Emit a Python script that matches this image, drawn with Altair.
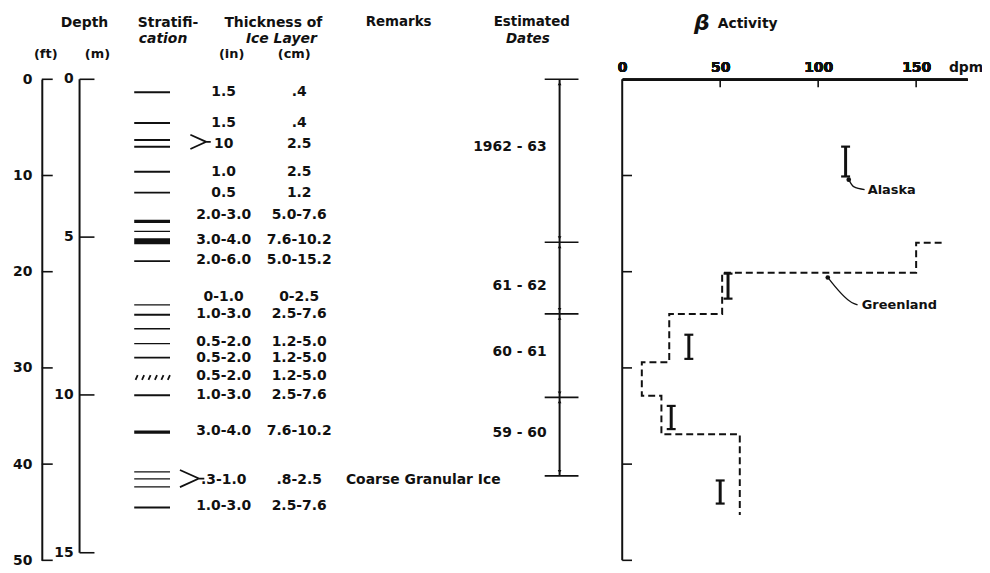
import altair as alt
import pandas as pd

FONT = "DejaVu Sans"
INK = "#111111"

# ---------------- data ----------------
ft_ticks = [0, 10, 20, 30, 40, 50]
m_ticks = [0, 5, 10, 15]
FT_PER_M = 3.28084

strat_depth_ft = [1.34, 4.55, 6.30, 7.02, 9.61, 11.78, 14.77, 15.81, 16.84, 18.90,
                  23.45, 24.48, 25.93, 27.48, 28.93, 32.85, 36.67, 40.81, 41.53,
                  42.36, 44.52]
strat_weight = ["medium", "medium", "medium", "medium", "medium", "medium", "thick",
                "thin", "heavy", "medium", "thin", "medium", "thin", "thin", "medium",
                "medium", "thick", "thin", "thin", "thin", "medium"]
hatched_depth_ft = [30.99]
bracket_depth_ft = [6.5, 41.5]

row_depth_ft = [1.34, 4.55, 6.71, 9.61, 11.78, 14.15, 16.74, 18.80, 22.62, 24.38,
                27.27, 28.93, 30.89, 32.85, 36.57, 41.63, 44.32]
thick_in = ["1.5", "1.5", "10", "1.0", "0.5", "2.0-3.0", "3.0-4.0", "2.0-6.0",
            "0-1.0", "1.0-3.0", "0.5-2.0", "0.5-2.0", "0.5-2.0", "1.0-3.0",
            "3.0-4.0", ".3-1.0", "1.0-3.0"]
thick_cm = [".4", ".4", "2.5", "2.5", "1.2", "5.0-7.6", "7.6-10.2", "5.0-15.2",
            "0-2.5", "2.5-7.6", "1.2-5.0", "1.2-5.0", "1.2-5.0", "2.5-7.6",
            "7.6-10.2", ".8-2.5", "2.5-7.6"]
remarks = [""] * 15 + ["Coarse Granular Ice", ""]

date_bounds_ft = [0, 16.94, 24.38, 33.06, 41.22]
date_labels = ["1962 - 63", "61 - 62", "60 - 61", "59 - 60"]
date_label_depth_ft = [7.02, 21.5, 28.3, 36.8]

dpm_ticks = [0, 50, 100, 150]
beta_depth_ticks = [10, 20, 30, 40, 50]

greenland_top_ft = [17.0, 17.0, 20.1, 24.4, 29.4, 32.9, 36.9]
greenland_bottom_ft = [17.0, 20.1, 24.4, 29.4, 32.9, 36.9, 45.3]
greenland_dpm = [163, 150, 51, 24, 10, 20, 60]

alaska_dpm = [114, 54, 34, 25, 50]
alaska_top_ft = [7.0, 20.2, 26.55, 33.95, 41.7]
alaska_bottom_ft = [10.1, 22.8, 29.06, 36.36, 44.1]

alaska_leader_dpm = [115.6, 118.1, 123.7]
alaska_leader_ft = [10.43, 11.16, 11.47]
greenland_leader_dpm = [104.9, 117.1, 120.1]
greenland_leader_ft = [20.6, 23.2, 23.45]

# ---------------- scales / axes ----------------
yscale = alt.Scale(domain=[0, 50], range=[70, 554], nice=False, zero=False)
yaxis = alt.Axis(orient="left", offset=-34, values=ft_ticks, ticks=False, tickSize=0,
                 labelPadding=10, labelFont=FONT, labelFontSize=14,
                 labelFontWeight="bold", labelColor=INK, domainColor=INK,
                 domainWidth=2, grid=False, labelAlign="right",
                 labelBaseline="middle")
xscale = alt.Scale(domain=[0, 176], range=[618, 965], nice=False, zero=False)
xaxis = alt.Axis(orient="top", offset=-70, values=dpm_ticks, ticks=False, tickSize=0,
                 labelPadding=5, labelFont=FONT, labelFontSize=14,
                 labelFontWeight="bold", labelColor=INK, domainColor=INK,
                 domainWidth=2, grid=False, labelFlush=False)


def Y(f):
    return alt.Y(f"{f}:Q", scale=yscale, axis=yaxis, title=None)


def X(f):
    return alt.X(f"{f}:Q", scale=xscale, axis=xaxis, title=None)


def txt(s, x, y, size=14, align="center", style="normal"):
    return alt.Chart(pd.DataFrame({"t": [s]})).mark_text(
        align=align, baseline="middle", font=FONT, fontSize=size,
        fontWeight="bold", fontStyle=style, color=INK
    ).encode(x=alt.value(x), y=alt.value(y), text="t:N")


layers = []

# ---- depth axes ----
ft_df = pd.DataFrame({"ft": ft_ticks})
layers.append(alt.Chart(ft_df).mark_rule(color=INK, strokeWidth=1.6).encode(
    y=Y("ft"), x=alt.value(34), x2=alt.value(45)))

m_df = pd.DataFrame({"m": m_ticks})
m_base = alt.Chart(m_df).transform_calculate(ft=f"datum.m * {FT_PER_M}")
layers.append(m_base.mark_rule(color=INK, strokeWidth=1.6).encode(
    y=Y("ft"), x=alt.value(72), x2=alt.value(87)))
layers.append(m_base.mark_text(align="right", baseline="middle", font=FONT,
                               fontSize=14, fontWeight="bold", color=INK).encode(
    y=Y("ft"), x=alt.value(66), text="m:N"))
m_line = pd.DataFrame({"a": [0], "b": [max(m_ticks)]})
layers.append(alt.Chart(m_line).transform_calculate(
    fa=f"datum.a * {FT_PER_M}", fb=f"datum.b * {FT_PER_M}"
).mark_rule(color=INK, strokeWidth=2).encode(
    y=Y("fa"), y2="fb", x=alt.value(72)))

# ---- stratification ----
strat_df = pd.DataFrame({"ft": strat_depth_ft, "w": strat_weight})
for wname, wpx in [("thin", 1.3), ("medium", 2.0), ("thick", 3.3), ("heavy", 6.0)]:
    layers.append(alt.Chart(strat_df).transform_filter(
        alt.datum.w == wname).mark_rule(color=INK, strokeWidth=wpx).encode(
        y=Y("ft"), x=alt.value(127), x2=alt.value(163)))
hatch_path = ("M-0.98,0.13L-0.86,-0.13M-0.62,0.13L-0.5,-0.13M-0.26,0.13L-0.14,-0.13"
              "M0.1,0.13L0.22,-0.13M0.46,0.13L0.58,-0.13M0.82,0.13L0.94,-0.13")
layers.append(alt.Chart(pd.DataFrame({"ft": hatched_depth_ft})).mark_point(
    shape=hatch_path, size=1300, filled=False, color=INK, strokeWidth=1.8,
    opacity=1).encode(y=Y("ft"), x=alt.value(146)))
br = pd.DataFrame({"ft": bracket_depth_ft, "k": ["small", "large"]})
layers.append(alt.Chart(br).mark_point(
    shape="M-1,-0.7L0.55,0L-1,0.7M0.55,0L1,0", filled=False, color=INK,
    strokeWidth=1.8, opacity=1).encode(
    y=Y("ft"),
    x=alt.X("k:N", scale=alt.Scale(domain=["small", "large"], range=[198, 181]),
            axis=None),
    size=alt.Size("k:N", scale=alt.Scale(domain=["small", "large"], range=[420, 600]),
                  legend=None)))

# ---- thickness / remarks text ----
rows = pd.DataFrame({"ft": row_depth_ft, "inch": thick_in, "cm": thick_cm,
                     "rem": remarks})
rowtext = dict(baseline="middle", font=FONT, fontSize=14, fontWeight="bold", color=INK)
layers.append(alt.Chart(rows).mark_text(align="center", **rowtext).encode(
    y=Y("ft"), x=alt.value(217), text="inch:N"))
layers.append(alt.Chart(rows).mark_text(align="center", **rowtext).encode(
    y=Y("ft"), x=alt.value(293), text="cm:N"))
layers.append(alt.Chart(rows).mark_text(align="left", **rowtext).encode(
    y=Y("ft"), x=alt.value(340), text="rem:N"))

# ---- estimated dates ----
db = pd.DataFrame({"ft": date_bounds_ft})
layers.append(alt.Chart(pd.DataFrame({"a": [min(date_bounds_ft)],
                                      "b": [max(date_bounds_ft)]})).mark_rule(
    color=INK, strokeWidth=2).encode(y=Y("a"), y2="b", x=alt.value(555)))
layers.append(alt.Chart(db).mark_rule(color=INK, strokeWidth=1.6).encode(
    y=Y("ft"), x=alt.value(540), x2=alt.value(574)))
# small arrowheads pointing at each boundary
lo, hi = min(date_bounds_ft), max(date_bounds_ft)
layers.append(alt.Chart(db).transform_filter(alt.datum.ft < hi).transform_calculate(
    p="datum.ft + 0.45").mark_point(shape="triangle-up", filled=True, size=14,
                                     color=INK, opacity=1).encode(
    y=Y("p"), x=alt.value(555)))
layers.append(alt.Chart(db).transform_filter(alt.datum.ft > lo).transform_calculate(
    p="datum.ft - 0.45").mark_point(shape="triangle-down", filled=True, size=14,
                                     color=INK, opacity=1).encode(
    y=Y("p"), x=alt.value(555)))
dl = pd.DataFrame({"ft": date_label_depth_ft, "t": date_labels})
layers.append(alt.Chart(dl).mark_text(align="right", baseline="middle", font=FONT,
                                      fontSize=14, fontWeight="bold",
                                      color=INK).encode(
    y=Y("ft"), x=alt.value(542), text="t:N"))

# ---- beta activity panel ----
layers.append(alt.Chart(pd.DataFrame({"x": [0], "a": [0], "b": [max(ft_ticks)]})).mark_rule(
    color=INK, strokeWidth=2).encode(x=X("x"), y=Y("a"), y2="b"))
bt = pd.DataFrame({"ft": beta_depth_ticks, "x0": 0, "x1": 5})
layers.append(alt.Chart(bt).mark_rule(color=INK, strokeWidth=1.6).encode(
    x=X("x0"), x2="x1", y=Y("ft")))
xt = pd.DataFrame({"d": [v for v in dpm_ticks if v > 0]})
layers.append(alt.Chart(xt).mark_rule(color=INK, strokeWidth=1.6).encode(
    x=X("d"), y=alt.value(70), y2=alt.value(78)))

gpts = []
for i, (t, b, v) in enumerate(zip(greenland_top_ft, greenland_bottom_ft, greenland_dpm)):
    gpts.append({"o": 2 * i, "dpm": v, "ft": t})
    gpts.append({"o": 2 * i + 1, "dpm": v, "ft": b})
layers.append(alt.Chart(pd.DataFrame(gpts)).mark_line(
    color=INK, strokeWidth=2, strokeDash=[7, 4]).encode(
    x=X("dpm"), y=Y("ft"), order="o:Q"))

al = pd.DataFrame({"dpm": alaska_dpm, "top": alaska_top_ft, "bot": alaska_bottom_ft})
layers.append(alt.Chart(al).mark_rule(color=INK, strokeWidth=3).encode(
    x=X("dpm"), y=Y("top"), y2="bot"))
layers.append(alt.Chart(al).transform_fold(["top", "bot"], as_=["k", "v"]).mark_tick(
    orient="horizontal", size=9, thickness=2.2, color=INK, opacity=1).encode(
    x=X("dpm"), y=Y("v")))

for lx, ly in [(alaska_leader_dpm, alaska_leader_ft),
               (greenland_leader_dpm, greenland_leader_ft)]:
    ld = pd.DataFrame({"dpm": lx, "ft": ly, "o": list(range(len(lx)))})
    layers.append(alt.Chart(ld).mark_line(color=INK, strokeWidth=1.3,
                                          interpolate="monotone").encode(
        x=X("dpm"), y=Y("ft"), order="o:Q"))
    layers.append(alt.Chart(ld.iloc[:1]).mark_point(
        filled=True, size=22, color=INK, opacity=1).encode(x=X("dpm"), y=Y("ft")))

# ---- headers & labels ----
layers += [
    txt("Depth", 77, 13),
    txt("(ft)", 38, 45, size=13),
    txt("(m)", 90, 45, size=13),
    txt("Stratifi-", 161, 13),
    txt("cation", 156, 29, style="italic"),
    txt("Thickness of", 267, 13),
    txt("Ice Layer", 275, 29, style="italic"),
    txt("(in)", 225, 45, size=13),
    txt("(cm)", 288, 45, size=13),
    txt("Remarks", 393, 12, size=13.5),
    txt("Estimated", 527, 12, size=13.5),
    txt("Dates", 523, 29, size=13.5, style="italic"),
    txt("\u03b2", 698, 13, size=22, style="italic"),
    txt("Activity", 714, 14, size=14, align="left"),
    txt("dpm", 964, 59, size=14),
    txt("Alaska", 865, 181, size=13, align="left"),
    txt("Greenland", 859, 297, size=13, align="left"),
]

chart = alt.layer(*layers).properties(
    width=980, height=562, padding=0,
    autosize=alt.AutoSizeParams(type="none"),
    background="white",
).configure_view(stroke=None)

chart.save("out.html", embed_options={"renderer": "svg", "actions": False})
